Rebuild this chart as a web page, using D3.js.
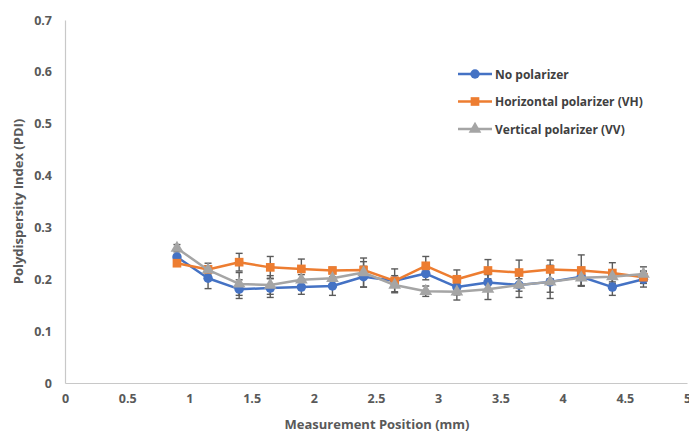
<!DOCTYPE html>
<html>
<head>
<meta charset="utf-8">
<script src="https://cdn.jsdelivr.net/npm/d3@7"></script>
<style>
  html, body { margin: 0; padding: 0; background: #fff; }
  svg { display: block; font-family: "Open Sans", "Liberation Sans", sans-serif; }
</style>
</head>
<body>
<svg id="chart" width="689" height="435"></svg>
<script>
// Measurement positions (mm)
const positions = [0.9, 1.15, 1.4, 1.65, 1.9, 2.15, 2.4, 2.65, 2.9, 3.15, 3.4, 3.65, 3.9, 4.15, 4.4, 4.65];

// PDI per series
const noPolarizer = [0.243, 0.202, 0.181, 0.183, 0.185, 0.187, 0.205, 0.197, 0.211, 0.185, 0.194, 0.189, 0.195, 0.205, 0.185, 0.200];
const horizontalVH = [0.231, 0.219, 0.233, 0.223, 0.220, 0.217, 0.218, 0.197, 0.226, 0.200, 0.217, 0.213, 0.219, 0.217, 0.212, 0.204];
const verticalVV = [0.260, 0.218, 0.191, 0.189, 0.199, 0.202, 0.213, 0.189, 0.177, 0.176, 0.181, 0.189, 0.195, 0.203, 0.205, 0.210];

// Standard deviations (error bars)
const noPolarizerErr = [0.005, 0.020, 0.018, 0.018, 0.014, 0.018, 0.020, 0.010, 0.012, 0.015, 0.015, 0.012, 0.020, 0.018, 0.016, 0.015];
const horizontalVHErr = [0.004, 0.012, 0.017, 0.021, 0.019, 0.006, 0.016, 0.023, 0.018, 0.018, 0.021, 0.024, 0.018, 0.030, 0.020, 0.012];
const verticalVVErr = [0.007, 0.008, 0.022, 0.018, 0.010, 0.012, 0.028, 0.013, 0.010, 0.016, 0.020, 0.024, 0.032, 0.015, 0.010, 0.014];

const seriesNames = ["No polarizer", "Horizontal polarizer (VH)", "Vertical polarizer (VV)"];
const xTicks = [0, 0.5, 1, 1.5, 2, 2.5, 3, 3.5, 4, 4.5, 5];
const yTicks = [0, 0.1, 0.2, 0.3, 0.4, 0.5, 0.6, 0.7];

const series = [
  { name: seriesNames[0], values: noPolarizer, err: noPolarizerErr, color: "#4472C4", symbol: d3.symbolCircle, size: 70 },
  { name: seriesNames[1], values: horizontalVH, err: horizontalVHErr, color: "#ED7D31", symbol: d3.symbolSquare, size: 75 },
  { name: seriesNames[2], values: verticalVV, err: verticalVVErr, color: "#A5A5A5", symbol: d3.symbolTriangle, size: 70 }
];

const svg = d3.select("#chart");
const x = d3.scaleLinear().domain([0, 5]).range([65, 687]);
const y = d3.scaleLinear().domain([0, 0.7]).range([383, 20]);

// Axes (no tick marks, light axis lines)
const xAxis = svg.append("g").attr("transform", `translate(0,${y(0)})`)
  .call(d3.axisBottom(x).tickValues(xTicks).tickSize(0).tickPadding(11).tickFormat(d3.format("")));
const yAxis = svg.append("g").attr("transform", `translate(${x(0)},0)`)
  .call(d3.axisLeft(y).tickValues(yTicks).tickSize(0).tickPadding(13).tickFormat(d => d === 0 ? "0" : d3.format(".1f")(d)));

[xAxis, yAxis].forEach(a => {
  a.select(".domain").attr("stroke", "#C8C8C8").attr("stroke-width", 1.2);
  a.selectAll("text").attr("fill", "#595959").attr("font-size", 12.5).attr("font-weight", 700)
    .attr("font-family", "'Open Sans', sans-serif");
});

// Axis titles
svg.append("text")
  .attr("x", 377).attr("y", 429)
  .attr("text-anchor", "middle")
  .attr("fill", "#595959").attr("font-size", 13).attr("font-weight", 700)
  .text("Measurement Position (mm)");
svg.append("text")
  .attr("transform", `translate(23,${(y(0) + y(0.7)) / 2}) rotate(-90)`)
  .attr("text-anchor", "middle")
  .attr("fill", "#595959").attr("font-size", 13).attr("font-weight", 700)
  .text("Polydispersity Index (PDI)");

// Error bars
const capW = 3.5;
series.forEach(s => {
  const g = svg.append("g").attr("stroke", "#5a5a5a").attr("stroke-width", 1.4).attr("fill", "none");
  positions.forEach((p, i) => {
    const cx = x(p), lo = y(s.values[i] - s.err[i]), hi = y(s.values[i] + s.err[i]);
    g.append("line").attr("x1", cx).attr("x2", cx).attr("y1", lo).attr("y2", hi);
    g.append("line").attr("x1", cx - capW).attr("x2", cx + capW).attr("y1", lo).attr("y2", lo);
    g.append("line").attr("x1", cx - capW).attr("x2", cx + capW).attr("y1", hi).attr("y2", hi);
  });
});

// Series lines and markers
const line = d3.line().x(d => x(d[0])).y(d => y(d[1]));
series.forEach(s => {
  const pts = positions.map((p, i) => [p, s.values[i]]);
  svg.append("path").datum(pts)
    .attr("d", line).attr("fill", "none")
    .attr("stroke", s.color).attr("stroke-width", 2.5).attr("stroke-linejoin", "round");
  svg.append("g").selectAll("path").data(pts).join("path")
    .attr("d", d3.symbol().type(s.symbol).size(s.size))
    .attr("transform", d => `translate(${x(d[0])},${y(d[1])})`)
    .attr("fill", s.color);
});

// Legend
const legend = svg.append("g").attr("transform", "translate(458,74)");
series.forEach((s, i) => {
  const row = legend.append("g").attr("transform", `translate(0,${i * 27.5})`);
  row.append("line").attr("x1", 0).attr("x2", 34).attr("y1", 0).attr("y2", 0)
    .attr("stroke", s.color).attr("stroke-width", 2.5);
  row.append("path").attr("d", d3.symbol().type(s.symbol).size(s.size)).attr("transform", "translate(17,0)")
    .attr("fill", s.color);
  row.append("text").attr("x", 37).attr("y", 4.5)
    .attr("fill", "#404040").attr("font-size", 12).attr("font-weight", 700)
    .text(s.name);
});
</script>
</body>
</html>
